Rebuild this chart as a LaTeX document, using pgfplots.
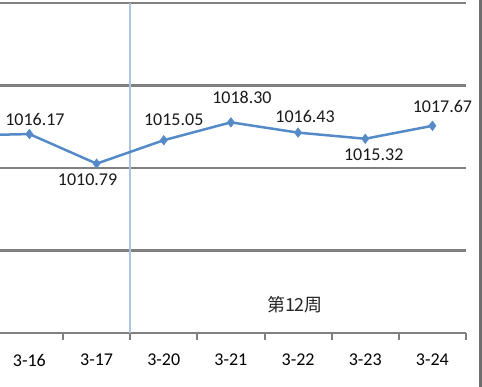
\documentclass[border=0pt]{standalone}
\usepackage{pgfplots}
\pgfplotsset{compat=1.18}
\usepackage{pgfplotstable}
\usepackage{fontspec}
\setmainfont{Carlito}
\newfontfamily\cjk{Noto Sans CJK SC}
\definecolor{lineblue}{RGB}{85,138,200}
\definecolor{vblue}{RGB}{172,196,222}
\definecolor{gridgray}{RGB}{128,128,128}
\definecolor{bordergray}{RGB}{110,110,110}

\pgfplotstableread{
x y dx dy
0 1016.17 5.5 15
1 1010.79 -9 -16
2 1015.05 10 20.5
3 1018.30 11 25
4 1016.43 7 16
5 1015.32 8.5 -15.5
6 1017.67 10 19
}\labeled

\pgfplotstableread{
x y
-1 1015.90
0 1016.17
}\prev

\begin{document}
\begin{tikzpicture}
\clip (0pt,-54pt) rectangle (482pt,333pt);
\begin{axis}[
  at={(0pt,0pt)}, anchor=south west,
  scale only axis, width=466pt, height=330pt,
  xmin=-0.438, xmax=6.5, ymin=980, ymax=1040,
  axis line style={draw=none},
  xtick pos=bottom, ytick pos=left,
  xtick={0,1,2,3,4,5,6},
  xticklabels={3-16,3-17,3-20,3-21,3-22,3-23,3-24},
  minor xtick={0.5,1.5,2.5,3.5,4.5,5.5,6.5},
  major tick length=0pt,
  minor tick length=6.7pt,
  tick align=outside,
  minor tick style={gridgray, line width=2pt},
  ytick={980,995,1010,1025,1040},
  yticklabels={},
  ymajorgrids,
  grid style={gridgray, line width=2.2pt},
  xticklabel style={font=\fontsize{18}{20}\selectfont, anchor=north, inner sep=0pt, yshift=-21pt},
  /pgf/number format/assume math mode=true,
  clip=true,
]
\addplot[vblue, line width=2.2pt] coordinates {(1.5,980) (1.5,1040)};
\addplot[lineblue, line width=2.5pt, no marks] table[x=x,y=y] {\prev};
\addplot[lineblue, line width=2.5pt, mark=diamond*, mark size=4.8pt,
  mark options={solid, fill=lineblue, line width=0.5pt},
  point meta=y,
  visualization depends on={\thisrow{dx} \as \dx},
  visualization depends on={\thisrow{dy} \as \dy},
  nodes near coords={\pgfmathprintnumber[fixed, fixed zerofill, precision=2, 1000 sep={}]{\pgfplotspointmeta}},
  nodes near coords style={anchor=center, inner sep=0pt, xshift=\dx, yshift=\dy, font=\fontsize{18}{20}\selectfont, text=black!90},
] table[x=x,y=y] {\labeled};
\node[font=\cjk\fontsize{18}{20}\selectfont, text=black!85] at (axis cs:3.954,985.1) {第12周};
\end{axis}
\draw[bordergray, line width=3pt] (480.5pt,-54pt) -- (480.5pt,333pt);
\end{tikzpicture}
\end{document}
